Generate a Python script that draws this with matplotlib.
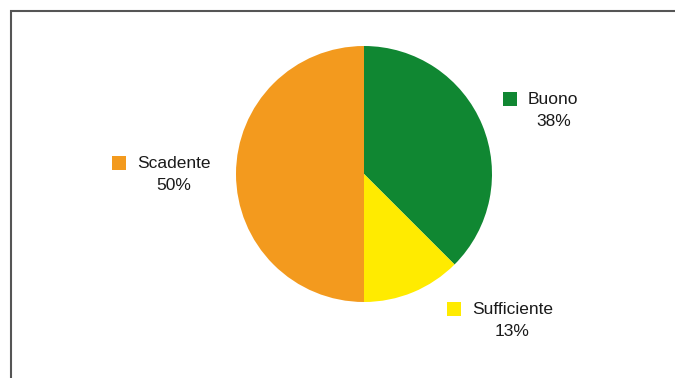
import matplotlib.pyplot as plt
from matplotlib.patches import Rectangle

# Data
categories = ["Buono", "Sufficiente", "Scadente"]
shares = [37.5, 12.5, 50.0]
pct_labels = ["38%", "13%", "50%"]
colors = ["#108732", "#FFEB00", "#F39A1E"]

# label anchor (left of square, vertical centre of name) in pixel coords, y from top
label_pos = [(503, 99), (447, 309), (112, 163)]

W, H = 675, 378
fig = plt.figure(figsize=(W / 100, H / 100), dpi=100)
ax = fig.add_axes([0, 0, 1, 1])

ax.pie(shares, colors=colors, startangle=90, counterclock=False,
       center=(364, H - 174), radius=128, frame=True,
       wedgeprops=dict(linewidth=0))
ax.set_xlim(0, W)
ax.set_ylim(0, H)
ax.set_aspect("equal")
ax.axis("off")

# outer frame (runs off right and bottom edges)
ax.add_patch(Rectangle((11, -20), W + 20, H - 11 + 20, fill=False,
                       edgecolor="#555555", linewidth=1.5, clip_on=False))

font = dict(family=["Liberation Sans", "DejaVu Sans"], fontsize=12.5, color="#1a1a1a")
for name, pct, col, (x, y) in zip(categories, pct_labels, colors, label_pos):
    ax.add_patch(Rectangle((x, H - y - 7), 14, 14, facecolor=col, edgecolor="none"))
    t = ax.text(x + 25, H - y, name, ha="left", va="center", **font)
    ax.annotate(pct, xy=(0.5, 0.5), xycoords=t, xytext=(0, -22),
                textcoords="offset pixels", ha="center", va="center", **font)

fig.savefig("out.png", dpi=100)
